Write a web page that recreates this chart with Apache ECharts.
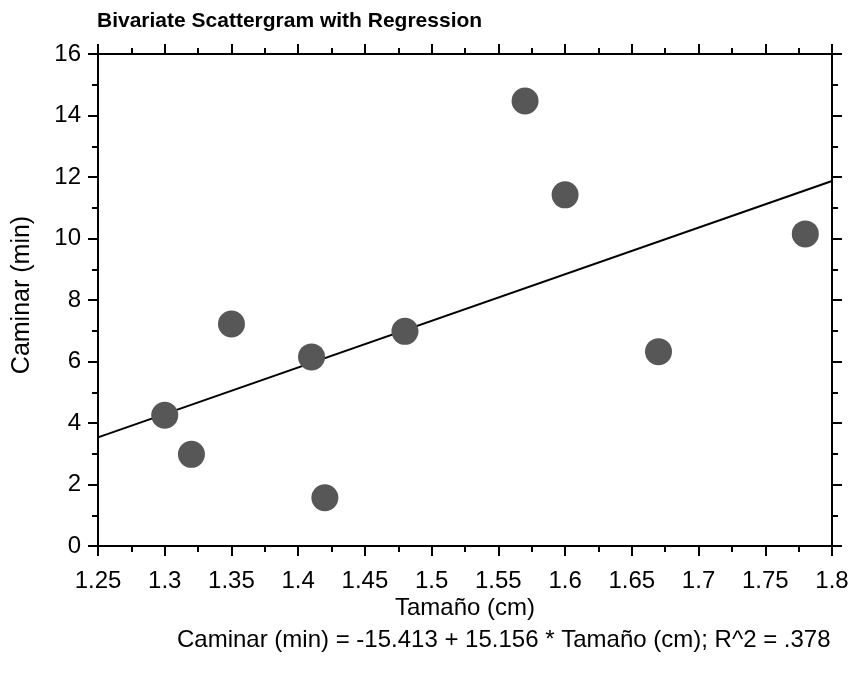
<!DOCTYPE html>
<html>
<head>
<meta charset="utf-8">
<script src="https://cdn.jsdelivr.net/npm/echarts@6/dist/echarts.min.js"></script>
<style>
html,body{margin:0;padding:0;background:#fff;}
#chart{width:860px;height:678px;}
</style>
</head>
<body>
<div id="chart"></div>
<script>
// Data
const tamano  = [1.30, 1.32, 1.35, 1.41, 1.42, 1.48, 1.57, 1.60, 1.67, 1.78];
const caminar = [4.25, 2.98, 7.22, 6.15, 1.57, 6.98, 14.47, 11.42, 6.32, 10.15];
const intercept = -15.413;
const slope = 15.156;
const xMin = 1.25, xMax = 1.8, xStep = 0.05;
const yMin = 0, yMax = 16, yStep = 2;
const titleText = 'Bivariate Scattergram with Regression';
const xName = 'Tamaño (cm)';
const yName = 'Caminar (min)';
const eqText = 'Caminar (min) = -15.413 + 15.156 * Tamaño (cm); R^2 = .378';

const FONT = '"Liberation Sans", Arial, sans-serif';
const points = tamano.map((x, i) => [x, caminar[i]]);
const regLine = [[xMin, intercept + slope * xMin], [xMax, intercept + slope * xMax]];

const axisCommon = {
  axisLine: {show: true, onZero: false, lineStyle: {color: '#000', width: 2}},
  axisTick: {show: true, inside: false, length: 10, lineStyle: {color: '#000', width: 2}},
  minorTick: {show: true, splitNumber: 2, length: 6, lineStyle: {color: '#000', width: 2}},
  splitLine: {show: false},
  minorSplitLine: {show: false}
};

const chart = echarts.init(document.getElementById('chart'), null, {renderer: 'canvas'});
chart.setOption({
  animation: false,
  backgroundColor: '#fff',
  title: {
    text: titleText, left: 92, top: 6,
    textStyle: {fontFamily: FONT, fontWeight: 'bold', fontSize: 21, color: '#000'}
  },
  grid: {left: 98, right: 28, top: 54, bottom: 132, containLabel: false},
  xAxis: [
    Object.assign({
      type: 'value', position: 'bottom', min: xMin, max: xMax, interval: xStep,
      name: xName, nameLocation: 'middle', nameGap: 50, nameMoveOverlap: false,
      nameTextStyle: {fontFamily: FONT, fontSize: 24, color: '#000'},
      axisLabel: {margin: 23, fontFamily: FONT, fontSize: 24, color: '#000',
        formatter: v => String(+v.toFixed(2))}
    }, axisCommon),
    Object.assign({
      type: 'value', position: 'top', min: xMin, max: xMax, interval: xStep,
      axisLabel: {show: false}
    }, axisCommon)
  ],
  yAxis: [
    Object.assign({
      type: 'value', position: 'left', min: yMin, max: yMax, interval: yStep,
      name: yName, nameLocation: 'middle', nameGap: 63, nameRotate: 90, nameMoveOverlap: false,
      nameTextStyle: {fontFamily: FONT, fontSize: 25, color: '#000', padding: [0, 0, 0, 10]},
      axisLabel: {margin: 17, fontFamily: FONT, fontSize: 24, color: '#000'}
    }, axisCommon),
    Object.assign({
      type: 'value', position: 'right', min: yMin, max: yMax, interval: yStep,
      axisLabel: {show: false}
    }, axisCommon)
  ],
  graphic: [{
    type: 'text', left: 177, top: 628,
    style: {text: eqText, fontFamily: FONT, fontSize: 24, fill: '#000'}
  }],
  series: [
    {
      type: 'line', data: regLine, xAxisIndex: 0, yAxisIndex: 0,
      showSymbol: false, symbol: 'none', silent: true,
      lineStyle: {color: '#000', width: 2}, z: 2
    },
    {
      type: 'scatter', data: points, xAxisIndex: 0, yAxisIndex: 0,
      symbol: 'circle', symbolSize: 27,
      itemStyle: {color: '#575757', opacity: 1}, z: 3
    }
  ]
});
</script>
</body>
</html>
